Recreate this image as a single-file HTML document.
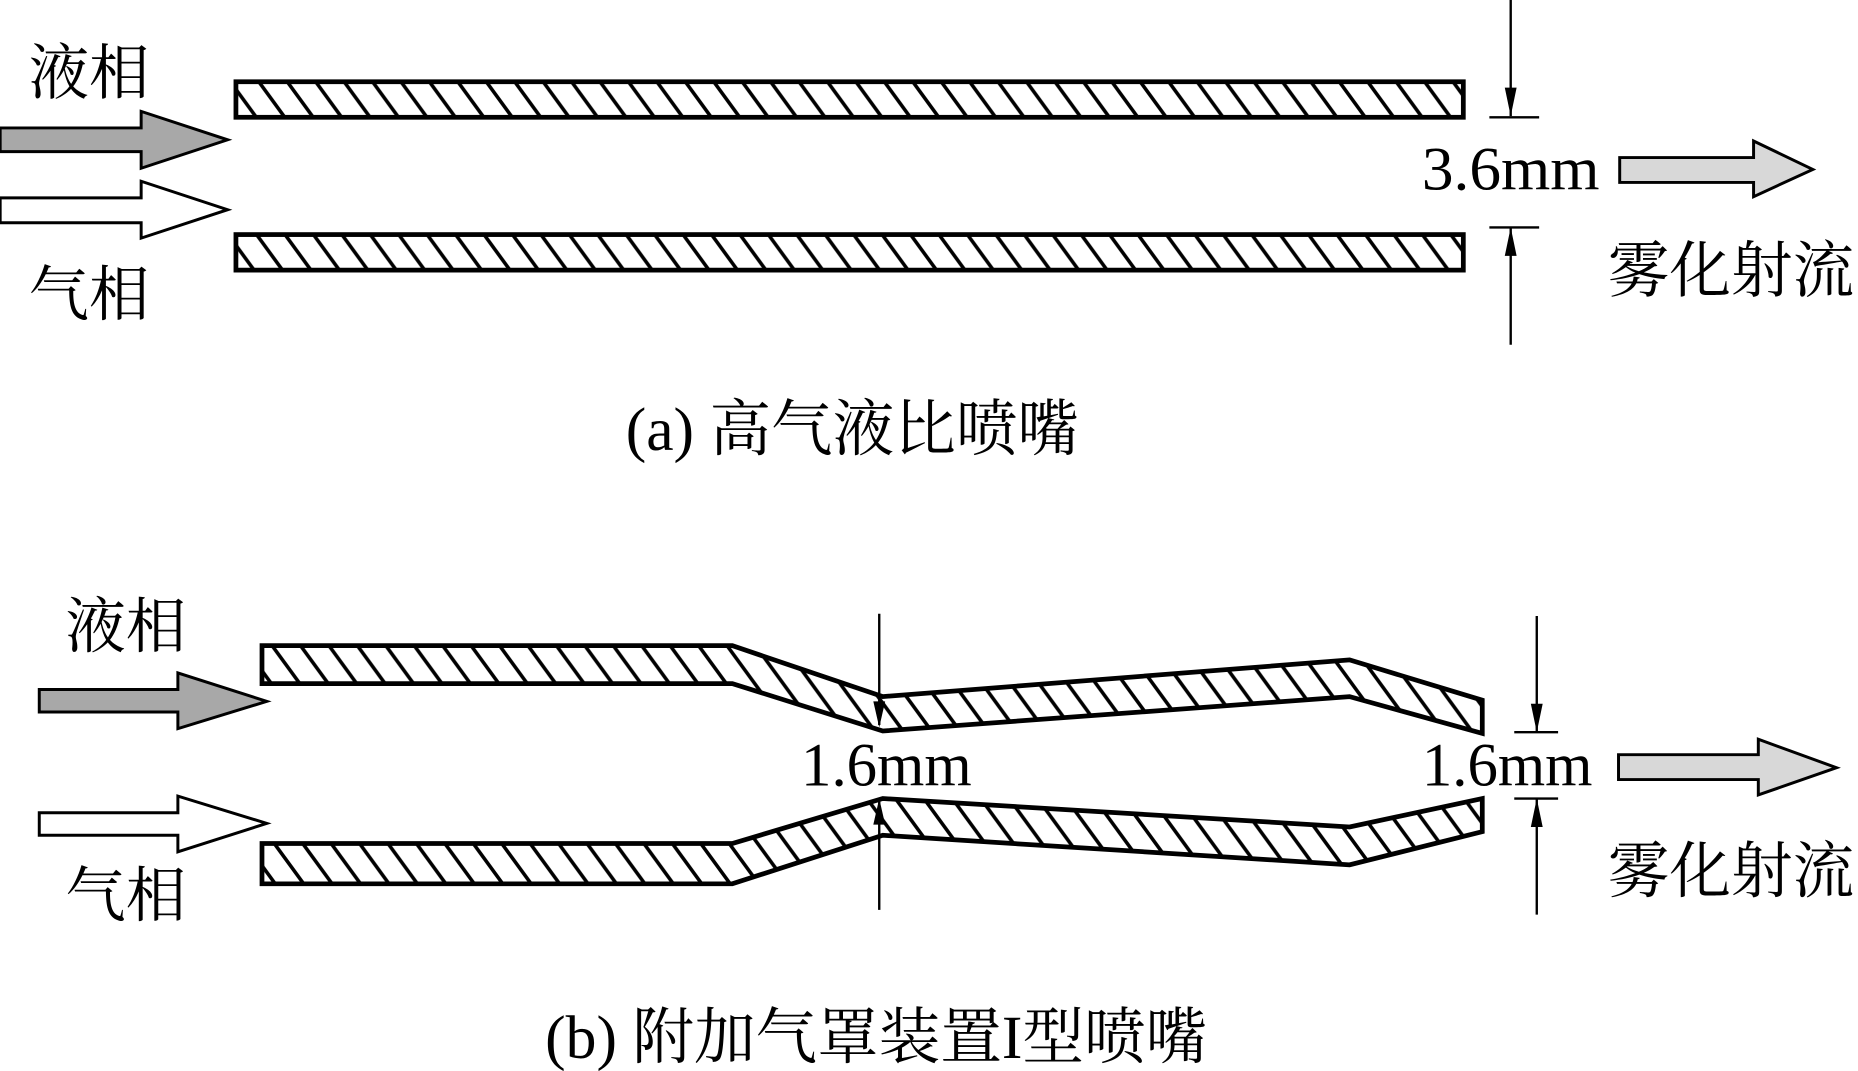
<!DOCTYPE html>
<html><head><meta charset="utf-8"><style>
html,body{margin:0;padding:0;background:#fff;}
svg{display:block;}
text{font-family:"Liberation Serif","Noto Serif CJK SC","Noto Sans CJK SC",serif;fill:#000;}
</style></head><body>
<svg width="1858" height="1071" viewBox="0 0 1568 904" xmlns="http://www.w3.org/2000/svg">
<defs>
<pattern id="h" patternUnits="userSpaceOnUse" width="24" height="32.9">
<line x1="-24" y1="-32.9" x2="48" y2="65.8" stroke="#000" stroke-width="3"/>
<line x1="-48" y1="-32.9" x2="24" y2="65.8" stroke="#000" stroke-width="3"/>
<line x1="0" y1="-32.9" x2="72" y2="65.8" stroke="#000" stroke-width="3"/>
</pattern>
</defs>
<g stroke="#000" stroke-width="4" stroke-linejoin="miter">
<rect x="199" y="69" width="1036" height="30" fill="url(#h)"/>
<rect x="199" y="198" width="1036" height="30" fill="url(#h)"/>
<polygon points="0,108 119,108 119,94 192,118 119,142 119,128 0,128" fill="#a8a8a8" stroke-width="2.5"/>
<polygon points="0,167 119,167 119,153 192,177 119,201 119,188 0,188" fill="#fff" stroke-width="2.5"/>
<polygon points="1367,133 1480,133 1480,119 1530,143 1480,166 1480,154 1367,154" fill="#d8d8d8" stroke-width="2.5"/>
<polygon points="221,545 618,545 745,588 1139,557 1251,591 1251,619 1139,588 745,617 618,577 221,577" fill="url(#h)"/>
<polygon points="221,712 618,712 745,674 1139,698 1251,674 1251,702 1139,730 745,705 618,746 221,746" fill="url(#h)"/>
<polygon points="33,582 150,582 150,568 225,592 150,615 150,601 33,601" fill="#a8a8a8" stroke-width="2.5"/>
<polygon points="33,686 150,686 150,672 225,695 150,719 150,705 33,705" fill="#fff" stroke-width="2.5"/>
<polygon points="1366,637 1484,637 1484,624 1550,648 1484,671 1484,658 1366,658" fill="#d8d8d8" stroke-width="2.5"/>
</g>
<g stroke="#000" stroke-width="2" fill="none">
<line x1="1275" y1="0" x2="1275" y2="98"/>
<line x1="1257" y1="99" x2="1299" y2="99"/>
<line x1="1257" y1="192" x2="1299" y2="192"/>
<line x1="1275" y1="192" x2="1275" y2="291"/>
<line x1="1297" y1="520" x2="1297" y2="618"/>
<line x1="1278" y1="618" x2="1315" y2="618"/>
<line x1="1278" y1="674" x2="1315" y2="674"/>
<line x1="1297" y1="674" x2="1297" y2="772"/>
<line x1="742" y1="518" x2="742" y2="612"/>
<line x1="742" y1="676" x2="742" y2="768"/>
</g>
<g fill="#000">
<polygon points="1275,98 1270,74 1280,74"/>
<polygon points="1275,192 1270,216 1280,216"/>
<polygon points="1297,618 1292,594 1302,594"/>
<polygon points="1297,674 1292,698 1302,698"/>
<polygon points="742,614 737,592 747,592"/>
<polygon points="742,674 737,696 747,696"/>
</g>
<g font-size="52">
<text x="24" y="79" font-size="51">液相</text>
<text x="24" y="266" font-size="51">气相</text>
<text x="1200" y="160" textLength="150" lengthAdjust="spacingAndGlyphs">3.6mm</text>
<text x="1357" y="246">雾化射流</text>
<text x="528" y="380">(a) 高气液比喷嘴</text>
<text x="55" y="546" font-size="51">液相</text>
<text x="55" y="773" font-size="51">气相</text>
<text x="676" y="663" textLength="144" lengthAdjust="spacingAndGlyphs">1.6mm</text>
<text x="1200" y="663" textLength="144" lengthAdjust="spacingAndGlyphs">1.6mm</text>
<text x="1357" y="753">雾化射流</text>
<text x="460" y="893">(b) 附加气罩装置I型喷嘴</text>
</g>
</svg>
</body></html>
